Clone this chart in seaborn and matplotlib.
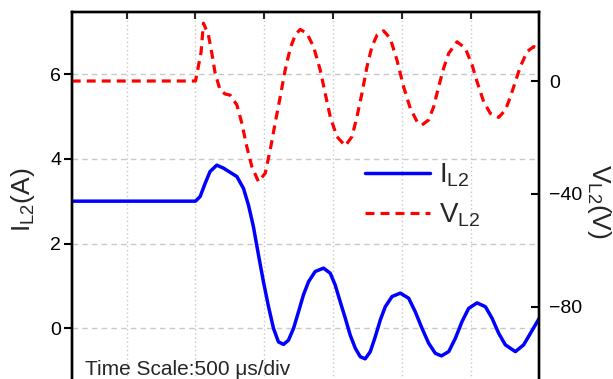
import matplotlib
matplotlib.use("Agg")
import matplotlib.pyplot as plt
import pandas as pd
import seaborn as sns

sns.set_theme(style="white")
plt.rcParams["font.family"] = ["Liberation Sans", "DejaVu Sans"]
plt.rcParams["mathtext.default"] = "regular"

# Inductor current I_L2 (A) versus time (µs)
t_current = [100, 1000, 1034, 1070, 1106, 1155, 1203, 1252, 1301, 1349, 1385,
             1421, 1458, 1494, 1531, 1567, 1603, 1640, 1676, 1713, 1749, 1785,
             1822, 1870, 1931, 1980, 2016, 2052, 2089, 2125, 2162, 2198, 2234,
             2271, 2307, 2344, 2380, 2429, 2489, 2550, 2598, 2647, 2695, 2744,
             2788, 2841, 2889, 2938, 2986, 3047, 3108, 3156, 3205, 3253, 3326,
             3386, 3435, 3500]
i_l2 = [3.0, 3.0, 3.11, 3.42, 3.70, 3.85, 3.78, 3.68, 3.58, 3.30, 2.91,
        2.40, 1.73, 1.10, 0.51, 0.0, -0.32, -0.38, -0.28, 0.0, 0.39, 0.79,
        1.10, 1.34, 1.42, 1.30, 1.02, 0.63, 0.24, -0.16, -0.47, -0.67, -0.72,
        -0.55, -0.2, 0.2, 0.51, 0.75, 0.83, 0.71, 0.39, 0.0, -0.35, -0.59,
        -0.65, -0.55, -0.24, 0.16, 0.47, 0.60, 0.51, 0.24, -0.12, -0.39, -0.55,
        -0.39, -0.12, 0.24]

# Inductor voltage V_L2 (V) versus time (µs)
t_voltage = [100, 1000, 1040, 1058, 1094, 1119, 1143, 1179, 1215, 1252, 1301,
             1337, 1373, 1410, 1458, 1507, 1543, 1579, 1616, 1652, 1689, 1725,
             1761, 1810, 1858, 1907, 1943, 1980, 2028, 2089, 2138, 2174, 2210,
             2247, 2283, 2320, 2368, 2416, 2465, 2513, 2562, 2611, 2647, 2695,
             2732, 2768, 2804, 2841, 2902, 2962, 3011, 3047, 3095, 3144, 3205,
             3253, 3290, 3326, 3362, 3411, 3459, 3500]
v_l2 = [0.0, 0.0, 10.0, 20.5, 16.3, 9.8, 2.7, -3.2, -4.6, -5.0, -8.5,
        -15.0, -23.3, -30.4, -35.7, -32.7, -24.5, -15.0, -5.6, 3.9, 11.6, 16.3,
        18.3, 16.9, 12.2, 3.9, -4.4, -12.7, -19.7, -23.0, -19.7, -12.7, -4.4,
        5.1, 12.2, 16.3, 17.8, 15.1, 7.4, -2.0, -9.7, -14.4, -15.6, -13.8,
        -9.1, -2.0, 4.5, 9.8, 13.9, 11.6, 5.7, -0.2, -7.3, -11.5, -12.9,
        -10.3, -5.6, -0.2, 5.1, 10.4, 12.2, 11.2]

left_ticks = [0, 2, 4, 6]
right_ticks = [-80, -40, 0]
time_ticks = [500, 1000, 1500, 2000, 2500, 3000, 3500]

df_i = pd.DataFrame({"t": t_current, "I": i_l2})
df_v = pd.DataFrame({"t": t_voltage, "V": v_l2})

fig = plt.figure(figsize=(6.13, 3.79), dpi=100)
ax = fig.add_axes([0.117, -0.0338, 0.7628, 1.0029])
ax2 = ax.twinx()

sns.lineplot(data=df_i, x="t", y="I", ax=ax, color="#0000ff", lw=2.5,
             legend=False, solid_joinstyle="round", solid_capstyle="round")
sns.lineplot(data=df_v, x="t", y="V", ax=ax2, color="#ff0000", lw=2.3,
             legend=False, dash_joinstyle="round")
line_i = ax.get_lines()[0]
line_v = ax2.get_lines()[0]
line_v.set_dashes((2.8, 1.9))

ax.set_xlim(100, 3500)
ax.set_ylim(-1.498, 7.47)
ax2.set_ylim(-110.2, 24.57)

ax.set_xticks(time_ticks)
ax.set_yticks(left_ticks)
ax2.set_yticks(right_ticks)

ax.yaxis.grid(True, linestyle=(0, (4, 3)), color="#c8c8c8", lw=1.0)
ax.xaxis.grid(True, linestyle=(0, (1, 2)), color="#c8c8c8", lw=1.0)
ax.set_axisbelow(True)

for a in (ax, ax2):
    for s in a.spines.values():
        s.set_linewidth(1.7)
        s.set_color("black")
    a.set_xlabel("")
    a.set_ylabel("")

ax.tick_params(axis="y", direction="out", length=6, width=1.5,
               labelsize=14, pad=1.5, right=False, colors="black")
ax.tick_params(axis="x", top=True, bottom=False, direction="in", length=5,
               width=1.5, labelbottom=False, labeltop=False)
ax2.tick_params(axis="y", direction="in", length=6, width=1.5,
                labelsize=14, pad=7, colors="black")

fig.text(23 / 613, 1 - 200 / 379, r"$I_{L2}$(A)", rotation=90,
         ha="center", va="center", fontsize=19)
fig.text(599 / 613, 1 - 201 / 379, r"$V_{L2}$(V)", rotation=270,
         ha="center", va="center", fontsize=19)
fig.text(85 / 613, 4 / 379, "Time Scale:500 μs/div", fontsize=15,
         ha="left", va="baseline")

ax2.legend(handles=[line_i, line_v], labels=[r"$I_{L2}$", r"$V_{L2}$"],
           loc="center left", bbox_to_anchor=(365 / 613, 1 - 195 / 379),
           bbox_transform=fig.transFigure, frameon=False, fontsize=20,
           handlelength=2.35, handletextpad=0.3, labelspacing=0.45,
           borderpad=0, borderaxespad=0)

fig.savefig("out.png", dpi=100)
